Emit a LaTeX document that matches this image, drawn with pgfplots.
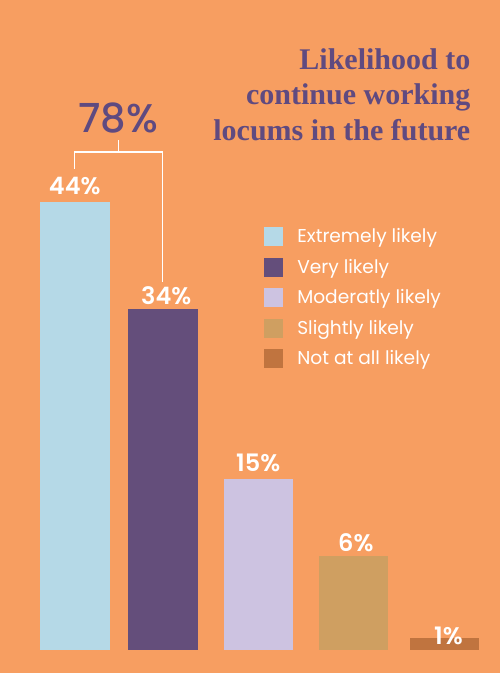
\documentclass[border=0pt]{standalone}
\usepackage{pgfplots}
\pgfplotsset{compat=1.18}
\usepackage{fontspec}
\setmainfont{Poppins}
\newfontfamily\medfont{Poppins Medium}
\newfontfamily\semifont{Poppins SemiBold}
\newfontfamily\titlefont{Liberation Serif}
\definecolor{bgc}{HTML}{F79E61}
\definecolor{cA}{HTML}{B5D9E7}
\definecolor{cB}{HTML}{644E7B}
\definecolor{cC}{HTML}{CDC3E1}
\definecolor{cD}{HTML}{CF9F61}
\definecolor{cE}{HTML}{C0743F}
\definecolor{ttl}{HTML}{5F4A80}
\begin{document}
\begin{tikzpicture}
\begin{axis}[
  x=1pt, y=10.17pt,
  xmin=0, xmax=500, ymin=-2.2616, ymax=63.913,
  axis lines=none, ticks=none,
  clip=false,
  axis background/.style={fill=bgc},
  legend cell align=left,
  legend image code/.code={\fill[#1] (0pt,-9.5pt) rectangle (19pt,9.5pt);},
  legend style={at={(axis cs:264,41.59)}, anchor=north west, draw=none, fill=none,
    inner sep=0pt, outer sep=0pt, row sep=11.5pt, column sep=14.3pt,
    font=\fontsize{18.6}{21}\selectfont, text=white,
    nodes={inner sep=0pt}},
]
\addplot[ybar, bar width=70, bar shift=0pt, fill=cA, draw=none] coordinates {(75,44.02)};
\addlegendentry{Extremely likely}
\addplot[ybar, bar width=69.7, bar shift=0pt, fill=cB, draw=none] coordinates {(163.2,33.53)};
\addlegendentry{Very likely}
\addplot[ybar, bar width=69.4, bar shift=0pt, fill=cC, draw=none] coordinates {(258.7,16.78)};
\addlegendentry{Moderatly likely}
\addplot[ybar, bar width=69, bar shift=0pt, fill=cD, draw=none] coordinates {(353.5,9.27)};
\addlegendentry{Slightly likely}
\addplot[ybar, bar width=69.3, bar shift=0pt, fill=cE, draw=none] coordinates {(444.7,1.21)};
\addlegendentry{Not at all likely}

\begin{scope}[white, font=\semifont\fontsize{24}{28}\selectfont]
\node[anchor=base] at (axis cs:74.7,44.74) {44\%};
\node[anchor=base] at (axis cs:166.3,33.99) {34\%};
\node[anchor=base] at (axis cs:258.2,17.60) {15\%};
\node[anchor=base] at (axis cs:355.8,9.73) {6\%};
\node[anchor=base] at (axis cs:448.5,0.56) {1\%};
\end{scope}

\draw[white, line width=1.5pt] (axis cs:74.3,47.31) -- (axis cs:74.3,48.95) -- (axis cs:162.7,48.95) -- (axis cs:162.7,36.21);
\draw[white, line width=1.5pt] (axis cs:118.3,48.95) -- (axis cs:118.3,50.15);
\node[anchor=base, text=ttl, font=\medfont\fontsize{40}{44}\selectfont] at (axis cs:118,50.93) {78\%};

\begin{scope}[text=ttl, font=\titlefont\fontsize{30}{34}\selectfont\bfseries]
\node[anchor=base east, inner sep=0pt] at (axis cs:470.5,57.03) {Likelihood to};
\node[anchor=base east, inner sep=0pt] at (axis cs:470.5,53.59) {continue working};
\node[anchor=base east, inner sep=0pt] at (axis cs:470.5,50.05) {locums in the future};
\end{scope}
\end{axis}
\end{tikzpicture}
\end{document}
